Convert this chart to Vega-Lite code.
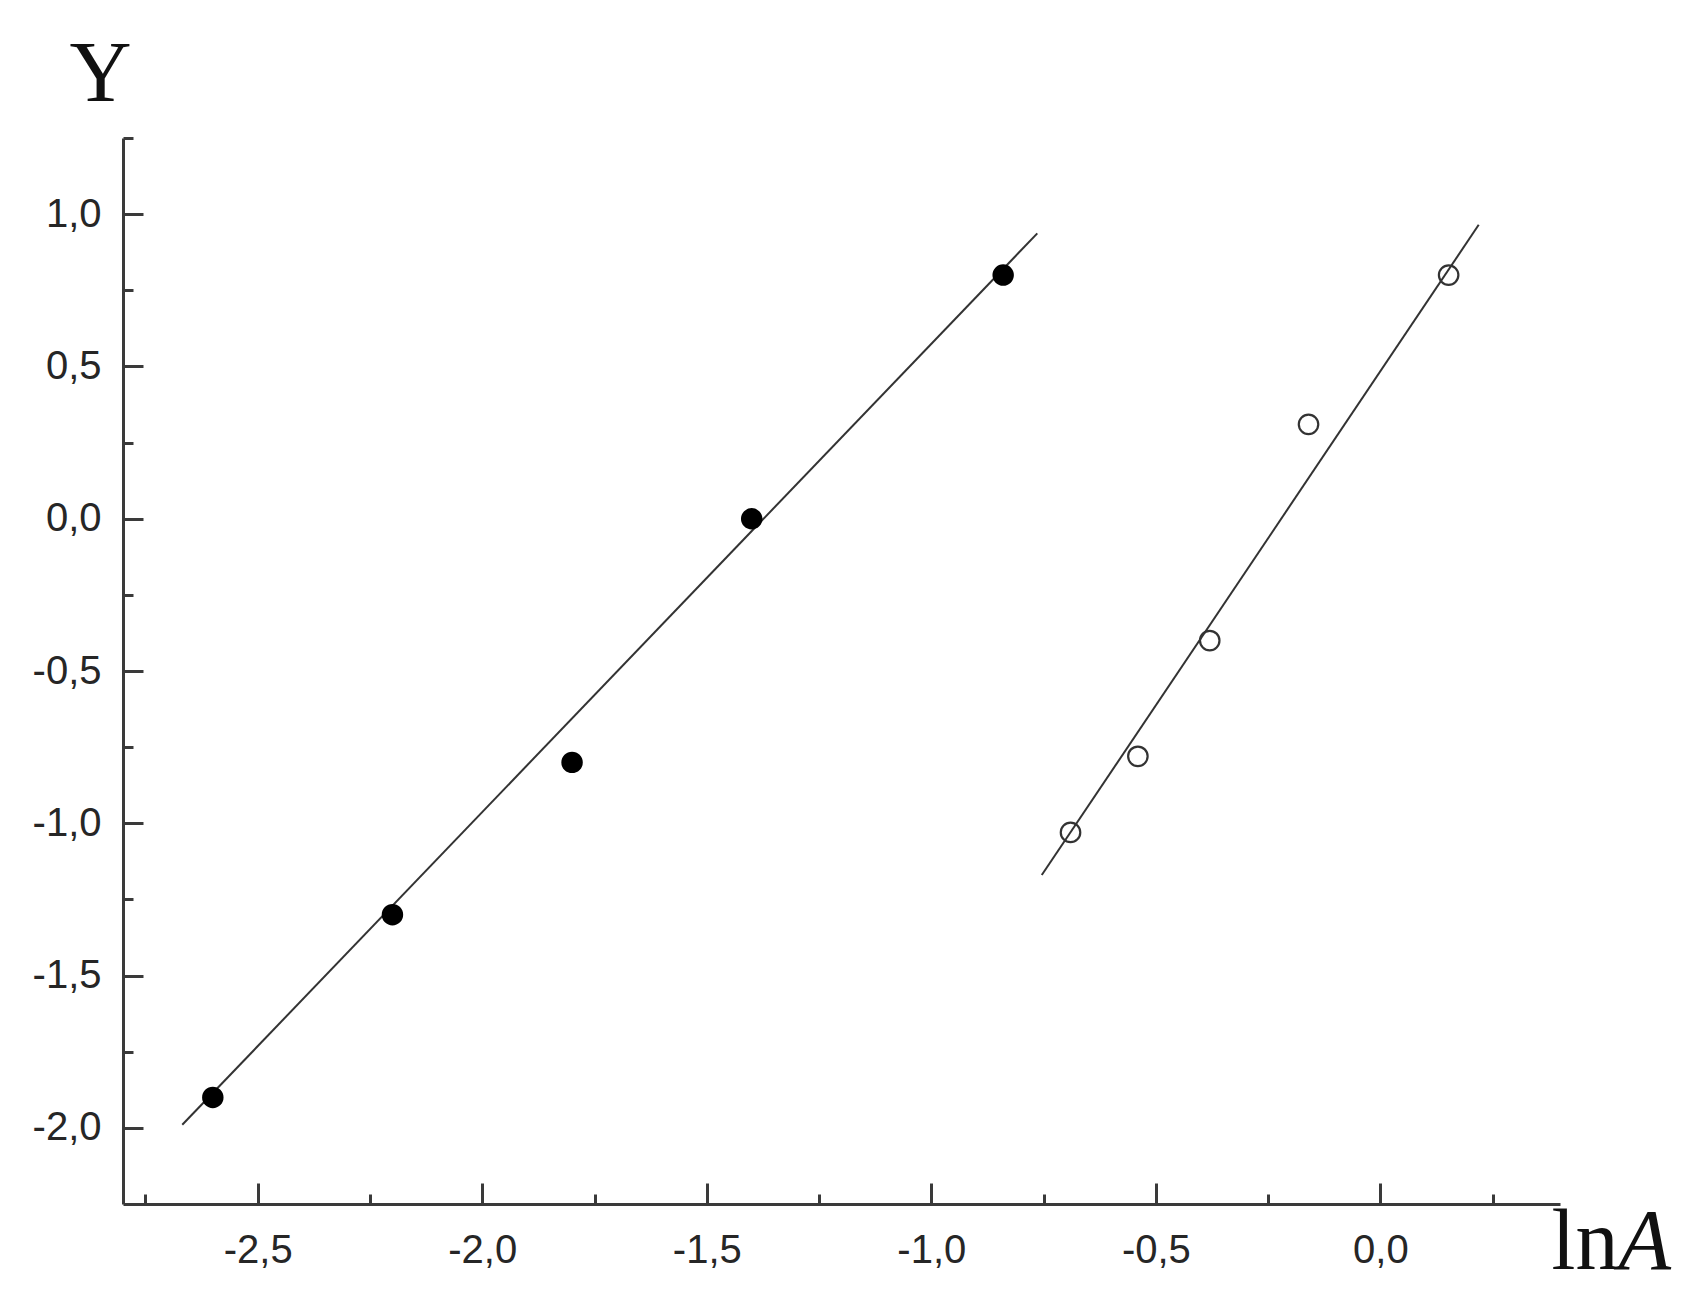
{
  "$schema": "https://vega.github.io/schema/vega-lite/v6.json",
  "width": 1437,
  "height": 1066,
  "autosize": "none",
  "padding": {"left": 123, "top": 138, "right": 132, "bottom": 104},
  "background": "white",
  "config": {
    "view": {"stroke": null},
    "axis": {
      "grid": false,
      "labelFont": "Liberation Sans",
      "labelFontSize": 40,
      "labelColor": "#262626",
      "domainColor": "#3a3a3a",
      "domainWidth": 3,
      "tickColor": "#3a3a3a",
      "tickWidth": 3,
      "titleFont": "Liberation Serif",
      "titleFontWeight": "normal",
      "titleColor": "#111111"
    }
  },
  "datasets": {
    "fits": [
      {"series": "filled", "lnA": -2.668, "Y": -1.99},
      {"series": "filled", "lnA": -0.764, "Y": 0.937},
      {"series": "open", "lnA": -0.754, "Y": -1.17},
      {"series": "open", "lnA": 0.219, "Y": 0.965}
    ],
    "points": [
      {"series": "filled", "lnA": -2.6, "Y": -1.9},
      {"series": "filled", "lnA": -2.2, "Y": -1.3},
      {"series": "filled", "lnA": -1.8, "Y": -0.8},
      {"series": "filled", "lnA": -1.4, "Y": 0.0},
      {"series": "filled", "lnA": -0.84, "Y": 0.8},
      {"series": "open", "lnA": -0.69, "Y": -1.03},
      {"series": "open", "lnA": -0.54, "Y": -0.78},
      {"series": "open", "lnA": -0.38, "Y": -0.4},
      {"series": "open", "lnA": -0.16, "Y": 0.31},
      {"series": "open", "lnA": 0.152, "Y": 0.8}
    ]
  },
  "resolve": {"axis": {"x": "independent", "y": "independent"}},
  "layer": [
    {
      "data": {"name": "fits"},
      "mark": {"type": "line", "color": "#333333", "strokeWidth": 2},
      "encoding": {
        "x": {
          "field": "lnA", "type": "quantitative",
          "scale": {"domain": [-2.8, 0.4], "nice": false, "zero": false},
          "axis": {
            "orient": "bottom",
            "values": [-2.5, -2.0, -1.5, -1.0, -0.5, 0.0],
            "tickSize": -21,
            "labelPadding": 47,
            "labelExpr": "replace(replace(format(datum.value, '.1f'), '.', ','), '\u2212', '-')",
            "title": "ln",
            "titleFontSize": 86,
            "titleAngle": 0,
            "titleAlign": "left",
            "titleBaseline": "alphabetic",
            "titleX": 1428,
            "titleY": 64
          }
        },
        "y": {
          "field": "Y", "type": "quantitative",
          "scale": {"domain": [-2.25, 1.25], "nice": false, "zero": false},
          "axis": {
            "orient": "left",
            "values": [-2.0, -1.5, -1.0, -0.5, 0.0, 0.5, 1.0],
            "tickSize": -20,
            "labelPadding": 42,
            "labelExpr": "replace(replace(format(datum.value, '.1f'), '.', ','), '\u2212', '-')",
            "title": "Y",
            "titleFontSize": 86,
            "titleAngle": 0,
            "titleAlign": "center",
            "titleBaseline": "alphabetic",
            "titleX": -23,
            "titleY": -38
          }
        },
        "detail": {"field": "series"}
      }
    },
    {
      "data": {"name": "points"},
      "transform": [{"filter": "datum.series === 'filled'"}],
      "mark": {"type": "point", "shape": "circle", "filled": true, "color": "#000000", "size": 460, "opacity": 1},
      "encoding": {
        "x": {
          "field": "lnA", "type": "quantitative",
          "axis": {
            "orient": "bottom",
            "values": [-2.75, -2.25, -1.75, -1.25, -0.75, -0.25, 0.25],
            "tickSize": -10,
            "labels": false,
            "domain": false,
            "title": "A",
            "titleFontSize": 86,
            "titleFontStyle": "italic",
            "titleAngle": 0,
            "titleAlign": "left",
            "titleBaseline": "alphabetic",
            "titleX": 1495,
            "titleY": 64
          }
        },
        "y": {
          "field": "Y", "type": "quantitative",
          "axis": {
            "orient": "left",
            "values": [-1.75, -1.25, -0.75, -0.25, 0.25, 0.75, 1.25],
            "tickSize": -10,
            "labels": false,
            "domain": false,
            "title": null
          }
        }
      }
    },
    {
      "data": {"name": "points"},
      "transform": [{"filter": "datum.series === 'open'"}],
      "mark": {"type": "point", "shape": "circle", "filled": false, "color": "#333333", "strokeWidth": 2.2, "size": 380, "opacity": 1},
      "encoding": {
        "x": {"field": "lnA", "type": "quantitative", "axis": null},
        "y": {"field": "Y", "type": "quantitative", "axis": null}
      }
    }
  ]
}
